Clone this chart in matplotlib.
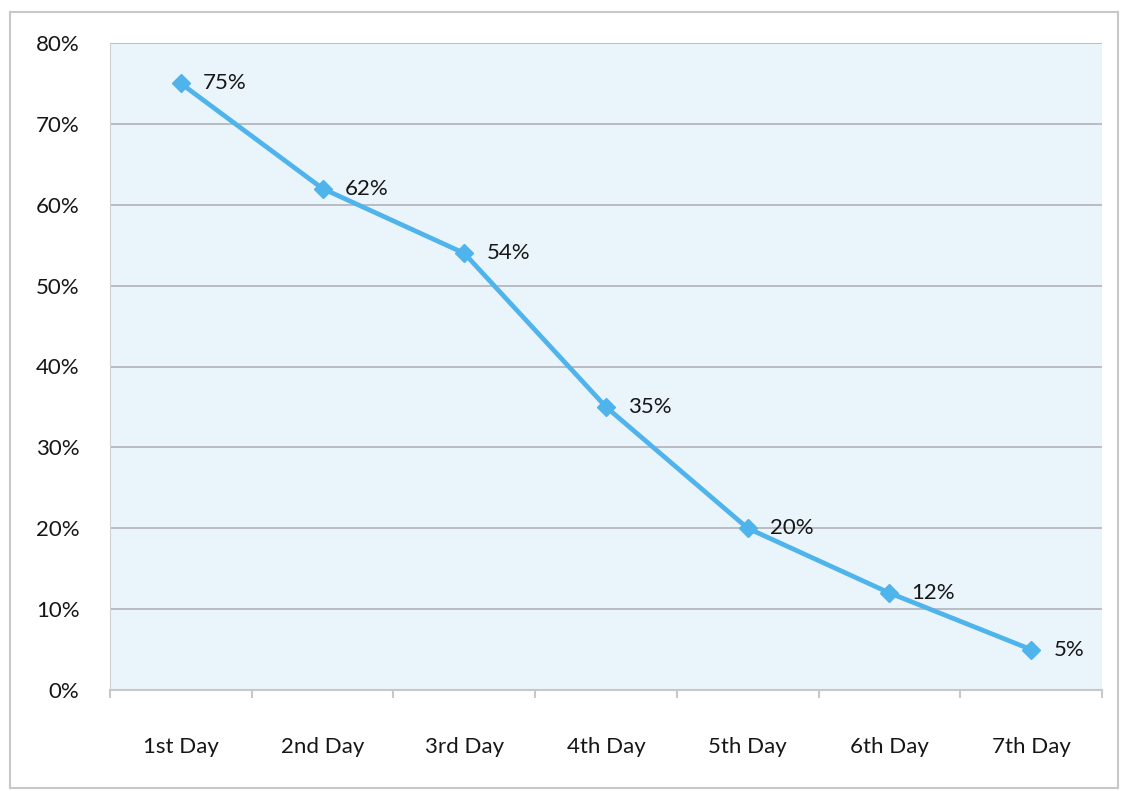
import matplotlib.pyplot as plt
from matplotlib.patches import Rectangle
from matplotlib.ticker import PercentFormatter

days = ['1st Day', '2nd Day', '3rd Day', '4th Day', '5th Day', '6th Day', '7th Day']
values = [75, 62, 54, 35, 20, 12, 5]
y_ticks = [0, 10, 20, 30, 40, 50, 60, 70, 80]

plt.rcParams['font.family'] = ['Lato', 'DejaVu Sans']

fig = plt.figure(figsize=(11.25, 7.91), dpi=100)
# light outer frame round the whole chart
fig.patches.append(Rectangle((10 / 1125, 3 / 791), 1108 / 1125, 776 / 791,
                             transform=fig.transFigure, fill=False,
                             edgecolor='#c8c8c8', linewidth=1.5))

ax = fig.add_axes([110 / 1125, 101 / 791, 992 / 1125, 647 / 791])
ax.set_facecolor('#eaf4fb')

x = list(range(len(days)))
ax.plot(x, values, color='#4fb4ec', linewidth=3.4, marker='D',
        markersize=9, markerfacecolor='#4fb4ec', markeredgecolor='#4fb4ec',
        zorder=3)
for xi, v in zip(x, values):
    ax.annotate(f'{v}%', (xi, v), xytext=(16, 0), textcoords='offset points',
                va='center', ha='left', fontsize=16, color='#161616')

ax.set_xlim(-0.45, len(days) - 0.5)
ax.set_ylim(0, 80)
ax.set_yticks(y_ticks)
ax.yaxis.set_major_formatter(PercentFormatter(decimals=0))
ax.set_xticks(x)
ax.set_xticklabels(days)
ax.set_xticks([i - 0.5 for i in range(len(days) + 1)], minor=True)

ax.grid(axis='y', color='#b2b2bb', linewidth=1.2)
ax.set_axisbelow(True)
for side in ['top', 'right']:
    ax.spines[side].set_visible(False)
ax.spines['left'].set_color('#d0d0d0')
ax.spines['bottom'].set_color('#c8c8c8')
ax.spines['bottom'].set_linewidth(1.5)

ax.tick_params(axis='y', length=0, pad=22, labelsize=16, labelcolor='#161616')
ax.tick_params(axis='x', which='major', length=0, pad=34, labelsize=16,
               labelcolor='#161616')
ax.tick_params(axis='x', which='minor', length=6, direction='out',
               color='#c8c8c8', width=1.5)

fig.savefig('out.png', dpi=100)
